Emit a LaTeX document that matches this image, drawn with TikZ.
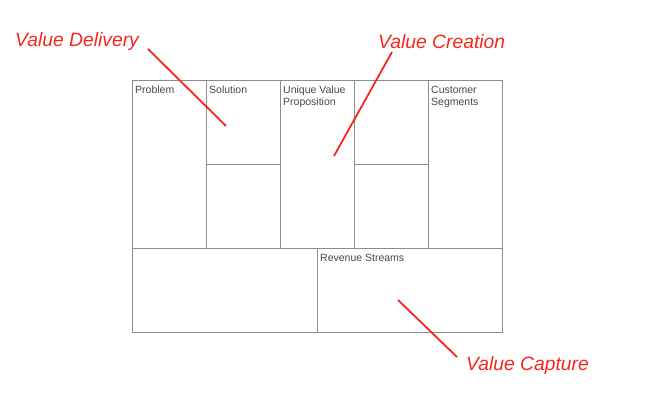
\documentclass[tikz,border=0pt]{standalone}
\usepackage{fontspec}
\setmainfont{Liberation Sans}
\newfontfamily\handfont{Liberation Sans}
\usepackage{tikz}
\usetikzlibrary{positioning}
\definecolor{gridgrey}{HTML}{8C8C8C}
\definecolor{textgrey}{HTML}{474747}
\definecolor{penred}{HTML}{F7261C}
\tikzset{
  cellbox/.style={draw=gridgrey, line width=0.8pt, inner sep=0pt, anchor=north west},
  celltext/.style={anchor=north west, align=left, inner sep=0pt, text=textgrey,
    font=\fontsize{10.5}{12}\selectfont},
  pen/.style={draw=penred, line width=1.8pt},
  penlabel/.style={text=penred, inner sep=0pt, font=\handfont\itshape\fontsize{19.3}{22}\selectfont},
}
\begin{document}
\begin{tikzpicture}[x=1pt, y=-1pt]
  \useasboundingbox (0,0) rectangle (645,403);
  % canvas cells
  \node[cellbox, minimum width=74pt, minimum height=168pt] (problem)  at (132,80) {};
  \node[cellbox, minimum width=74pt, minimum height=84pt]  (solution) at (206,80) {};
  \node[cellbox, minimum width=74pt, minimum height=84pt]  (metrics)  at (206,164) {};
  \node[cellbox, minimum width=74pt, minimum height=168pt] (uvp)      at (280,80) {};
  \node[cellbox, minimum width=74pt, minimum height=84pt]  (advantage) at (354,80) {};
  \node[cellbox, minimum width=74pt, minimum height=84pt]  (channels) at (354,164) {};
  \node[cellbox, minimum width=74pt, minimum height=168pt] (segments) at (428,80) {};
  \node[cellbox, minimum width=185pt, minimum height=84pt] (cost)     at (132,248) {};
  \node[cellbox, minimum width=185pt, minimum height=84pt] (revenue)  at (317,248) {};
  % cell titles
  \node[celltext] at ([xshift=3pt, yshift=-6pt]problem.north west) {Problem};
  \node[celltext] at ([xshift=3pt, yshift=-6pt]solution.north west) {Solution};
  \node[celltext] at ([xshift=3pt, yshift=-6pt]uvp.north west) {Unique Value\\Proposition};
  \node[celltext] at ([xshift=3pt, yshift=-6pt]segments.north west) {Customer\\Segments};
  \node[celltext] at ([xshift=3pt, yshift=-6pt]revenue.north west) {Revenue Streams};

  % annotations
  \node[penlabel, anchor=west] (delivery) at (15,42) {Value Delivery};
  \node[penlabel, anchor=west] (creation) at (378,42) {Value Creation};
  \node[penlabel, anchor=west] (capture)  at (466,366) {Value Capture};
  \coordinate (deliverystart) at (148,49);
  \coordinate (deliveryend)   at (226,126);
  \coordinate (creationstart) at (392,52);
  \coordinate (creationend)   at (334,156);
  \coordinate (capturestart)  at (457,357);
  \coordinate (captureend)    at (398,300);
  \draw[pen] (deliverystart) -- (deliveryend);
  \draw[pen] (creationstart) -- (creationend);
  \draw[pen] (capturestart) -- (captureend);
\end{tikzpicture}
\end{document}
